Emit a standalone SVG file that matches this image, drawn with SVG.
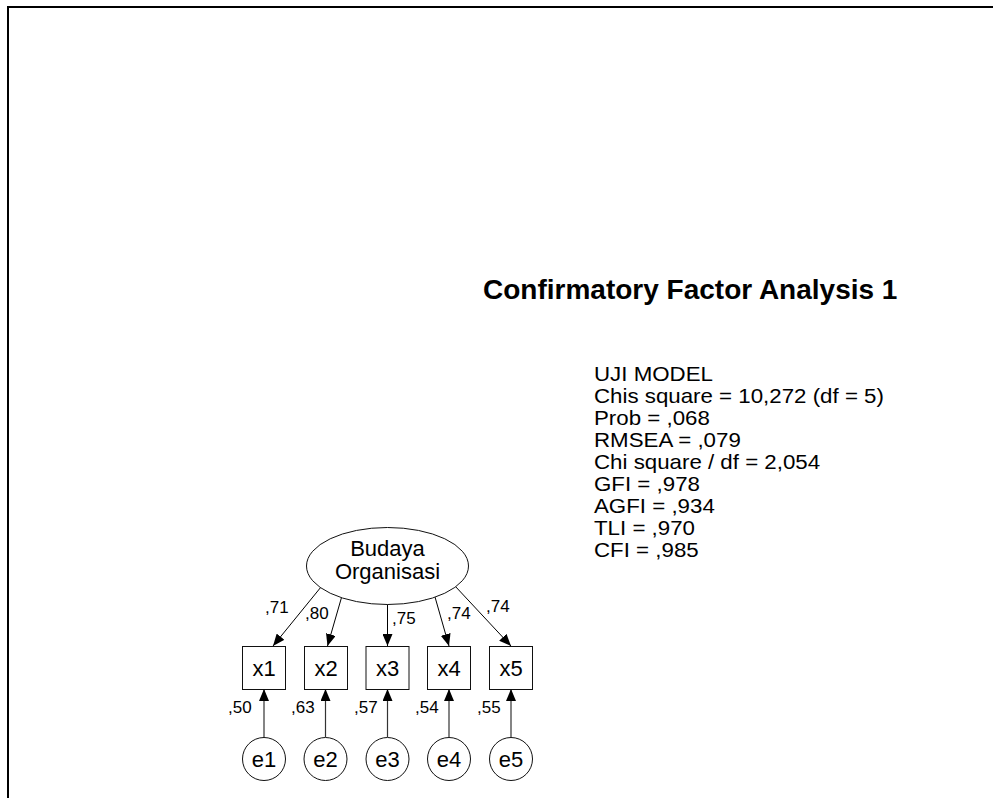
<svg xmlns="http://www.w3.org/2000/svg" width="993" height="798" viewBox="0 0 993 798">
  <style>
    .frame { fill: none; stroke: #000; stroke-width: 2; }
    .shape { fill: #fff; stroke: #111; stroke-width: 1; }
    .path { fill: none; stroke: #000; stroke-width: 1; marker-end: url(#head); }
    .err { fill: none; stroke: #333; stroke-width: 1.2; marker-end: url(#head); }
    .big { font-family: "Liberation Sans", Arial, sans-serif; font-size: 22px; fill: #000; }
    .stat { font-family: "Liberation Sans", Arial, sans-serif; font-size: 20.5px; fill: #000; }
    .mid { text-anchor: middle; }
    .coef { font-family: "Liberation Sans", Arial, sans-serif; font-size: 17px; fill: #000; }
    .title { font-family: "Liberation Sans", Arial, sans-serif; font-size: 28px; font-weight: bold; fill: #000; }
  </style>
  <defs>
    <marker id="head" viewBox="0 0 12 10" refX="12" refY="5" markerWidth="12" markerHeight="10" markerUnits="userSpaceOnUse" orient="auto">
      <path d="M0,0 L12,5 L0,10 Z" fill="#000"/>
    </marker>
  </defs>

  <rect x="0" y="0" width="993" height="798" fill="#fff"/>
  <rect class="frame" x="8" y="7" width="1000" height="800"/>

  <!-- model summary -->
  <text class="title" x="483" y="299">Confirmatory Factor Analysis 1</text>
  <g id="fit-stats" class="stat" transform="translate(594,0) scale(1.088,1)">
    <text x="0" y="381">UJI MODEL</text>
    <text x="0" y="403">Chis square = 10,272 (df = 5)</text>
    <text x="0" y="425">Prob = ,068</text>
    <text x="0" y="447">RMSEA = ,079</text>
    <text x="0" y="469">Chi square / df = 2,054</text>
    <text x="0" y="491">GFI = ,978</text>
    <text x="0" y="513">AGFI = ,934</text>
    <text x="0" y="535">TLI = ,970</text>
    <text x="0" y="557">CFI = ,985</text>
  </g>

  <!-- connectors: loadings and error paths -->
  <g id="connectors">
    <line class="path" x1="321" y1="587" x2="273" y2="646"/>
    <line class="path" x1="341.5" y1="597.5" x2="327.5" y2="646"/>
    <line class="path" x1="387.5" y1="604" x2="387.5" y2="646"/>
    <line class="path" x1="435" y1="597" x2="449" y2="646"/>
    <line class="path" x1="455" y1="586" x2="511" y2="646"/>

    <line class="err" x1="264" y1="737" x2="264" y2="689"/>
    <line class="err" x1="325.5" y1="737" x2="325.5" y2="689"/>
    <line class="err" x1="387.5" y1="737" x2="387.5" y2="689"/>
    <line class="err" x1="449" y1="737" x2="449" y2="689"/>
    <line class="err" x1="511" y1="737" x2="511" y2="689"/>

    <g class="coef">
      <text x="265" y="613">,71</text>
      <text x="305" y="619">,80</text>
      <text x="392" y="624">,75</text>
      <text x="447" y="619">,74</text>
      <text x="486" y="612">,74</text>
      <text x="228" y="713">,50</text>
      <text x="291" y="713">,63</text>
      <text x="354" y="713">,57</text>
      <text x="415" y="713">,54</text>
      <text x="477" y="713">,55</text>
    </g>
  </g>

  <!-- latent factor -->
  <g id="budaya-organisasi">
    <ellipse class="shape" cx="387.5" cy="566" rx="81" ry="38.5"/>
    <text class="big mid" x="387.5" y="556">Budaya</text>
    <text class="big mid" x="387.5" y="579">Organisasi</text>
  </g>

  <!-- indicators -->
  <g id="x1"><rect class="shape" x="242.5" y="646.5" width="43" height="43"/><text class="big mid" x="264" y="676">x1</text></g>
  <g id="x2"><rect class="shape" x="304.5" y="646.5" width="43" height="43"/><text class="big mid" x="326" y="676">x2</text></g>
  <g id="x3"><rect class="shape" x="366" y="646.5" width="43" height="43"/><text class="big mid" x="387.5" y="676">x3</text></g>
  <g id="x4"><rect class="shape" x="427.5" y="646.5" width="43" height="43"/><text class="big mid" x="449" y="676">x4</text></g>
  <g id="x5"><rect class="shape" x="489.5" y="646.5" width="43" height="43"/><text class="big mid" x="511" y="676">x5</text></g>

  <!-- error terms -->
  <g id="e1"><circle class="shape" cx="264" cy="759" r="21.5"/><text class="big mid" x="264" y="767">e1</text></g>
  <g id="e2"><circle class="shape" cx="325.5" cy="759" r="21.5"/><text class="big mid" x="325.5" y="767">e2</text></g>
  <g id="e3"><circle class="shape" cx="387.5" cy="759" r="21.5"/><text class="big mid" x="387.5" y="767">e3</text></g>
  <g id="e4"><circle class="shape" cx="449" cy="759" r="21.5"/><text class="big mid" x="449" y="767">e4</text></g>
  <g id="e5"><circle class="shape" cx="511" cy="759" r="21.5"/><text class="big mid" x="511" y="767">e5</text></g>
</svg>
